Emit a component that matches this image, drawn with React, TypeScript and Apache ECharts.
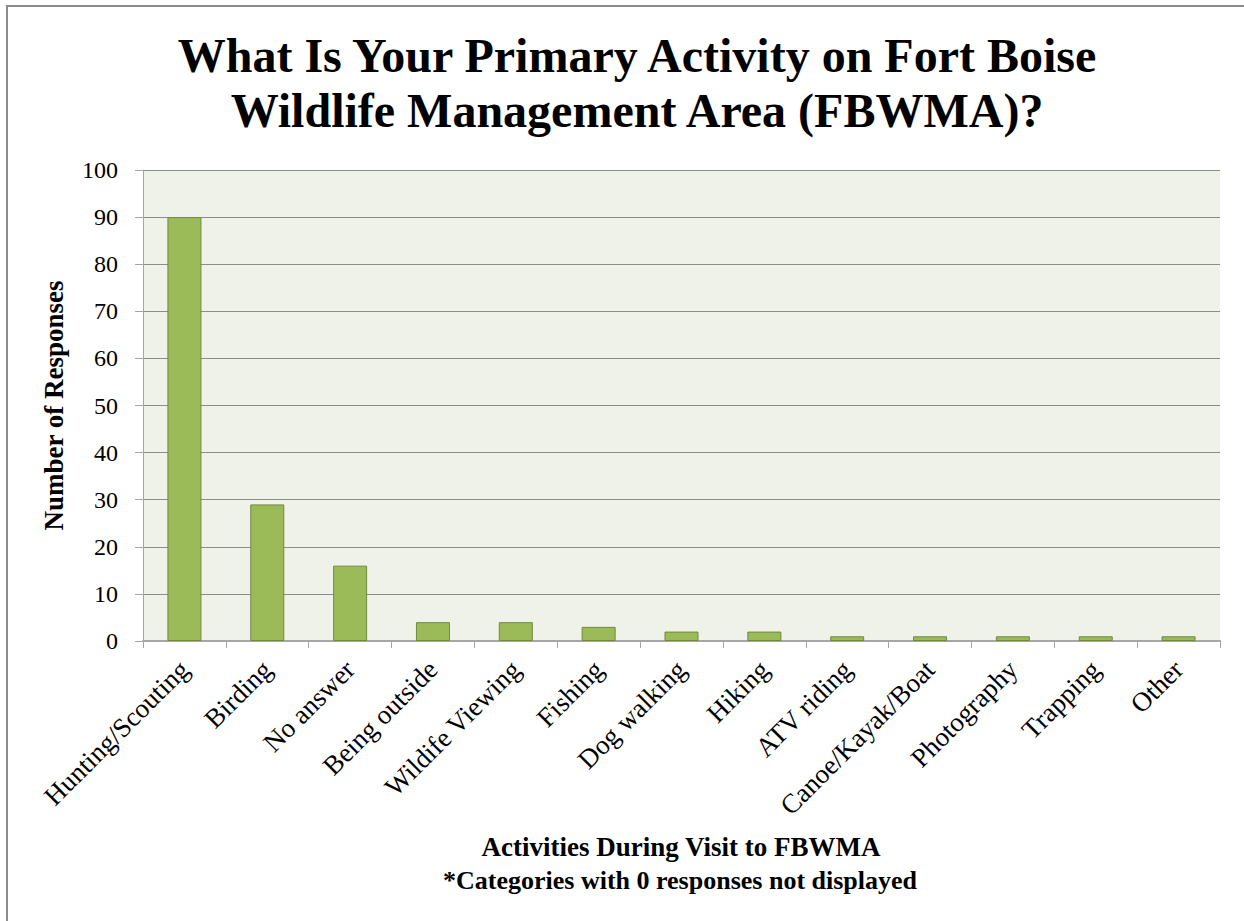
import React, { useEffect, useRef } from "react";
import * as echarts from "echarts";

const categories = [
  "Hunting/Scouting",
  "Birding",
  "No answer",
  "Being outside",
  "Wildife Viewing",
  "Fishing",
  "Dog walking",
  "Hiking",
  "ATV riding",
  "Canoe/Kayak/Boat",
  "Photography",
  "Trapping",
  "Other",
];
const responses = [90, 29, 16, 4, 4, 3, 2, 2, 1, 1, 1, 1, 1];
const titleLines = [
  "What Is Your Primary Activity on Fort Boise",
  "Wildlife Management Area (FBWMA)?",
];
const xNameLines = [
  "Activities During Visit to FBWMA",
  "*Categories with 0 responses not displayed",
];
const yName = "Number of Responses";

const FONT = "Liberation Serif";

export default function App() {
  const ref = useRef<HTMLDivElement>(null);
  useEffect(() => {
    if (!ref.current) return;
    const chart = echarts.init(ref.current, null, { renderer: "svg" });
    chart.setOption({
      animation: false,
      backgroundColor: "#ffffff",
      title: {
        text: titleLines.join("\n"),
        left: 632,
        top: 23,
        textAlign: "center",
        textStyle: {
          fontFamily: FONT,
          fontSize: 48,
          fontWeight: "bold",
          color: "#000",
          lineHeight: 55,
        },
      },
      grid: {
        left: 143,
        right: 24,
        top: 170,
        bottom: 280,
        show: true,
        backgroundColor: "#EFF2E8",
        borderWidth: 0,
      },
      xAxis: {
        type: "category",
        data: categories,
        boundaryGap: true,
        axisLine: { show: true, lineStyle: { color: "#A6A6A6", width: 2 } },
        axisTick: {
          show: true,
          alignWithLabel: false,
          length: 7,
          lineStyle: { color: "#A6A6A6", width: 1 },
        },
        axisLabel: {
          rotate: 45,
          interval: 0,
          margin: 24,
          fontFamily: FONT,
          fontSize: 27,
          color: "#000",
        },
      },
      yAxis: {
        type: "value",
        min: 0,
        max: 100,
        interval: 10,
        name: yName,
        nameLocation: "middle",
        nameGap: 76,
        nameTextStyle: {
          fontFamily: FONT,
          fontSize: 27,
          fontWeight: "bold",
          color: "#000",
        },
        axisLine: { show: true, lineStyle: { color: "#A6A6A6", width: 1 } },
        axisTick: {
          show: true,
          length: 8,
          lineStyle: { color: "#A6A6A6" },
        },
        splitLine: { show: true, lineStyle: { color: "#8C8C8C", width: 1 } },
        axisLabel: {
          margin: 25,
          fontFamily: FONT,
          fontSize: 24,
          color: "#000",
        },
      },
      series: [
        {
          type: "bar",
          data: responses,
          barWidth: 34,
          itemStyle: {
            color: "#9BBB59",
            borderColor: "#71893F",
            borderWidth: 1,
          },
        },
      ],
      graphic: [
        {
          type: "rect",
          shape: { x: 7, y: 6, width: 1300, height: 1000 },
          style: { fill: "none", stroke: "#8C8C8C", lineWidth: 2 },
          silent: true,
        },
        {
          type: "text",
          x: 681,
          y: 847,
          style: {
            text: xNameLines[0],
            fontFamily: FONT,
            fontSize: 27,
            fontWeight: "bold",
            fill: "#000",
            textAlign: "center",
            textVerticalAlign: "middle",
          },
        },
        {
          type: "text",
          x: 680,
          y: 880,
          style: {
            text: xNameLines[1],
            fontFamily: FONT,
            fontSize: 26,
            fontWeight: "bold",
            fill: "#000",
            textAlign: "center",
            textVerticalAlign: "middle",
          },
        },
      ],
    });
    return () => chart.dispose();
  }, []);
  return (
    <div
      ref={ref}
      style={{ position: "fixed", left: 0, top: 0, width: 1244, height: 921 }}
    />
  );
}
